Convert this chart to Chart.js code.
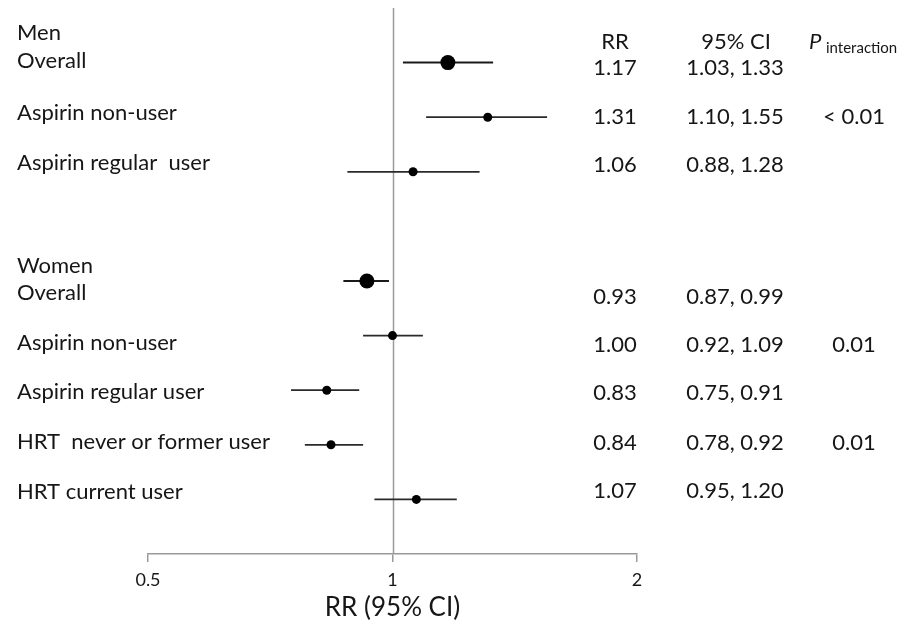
<!DOCTYPE html>
<html>
<head>
<meta charset="utf-8">
<title>RR forest plot</title>
<script src="https://cdn.jsdelivr.net/npm/chart.js@4"></script>
<style>
  body { margin: 0; background: #fff; }
  canvas { display: block; }
</style>
</head>
<body>
<canvas id="forest" width="905" height="626"></canvas>
<script>
// rows, top to bottom
const rowLabels = ["Overall", "Aspirin non-user", "Aspirin regular  user", "Overall",
  "Aspirin non-user", "Aspirin regular user", "HRT  never or former user", "HRT current user"];
const groupLabels = ["Men", "Women"];
const rr = [1.17, 1.31, 1.06, 0.93, 1.00, 0.83, 0.84, 1.07];
const ciLow = [1.03, 1.10, 0.88, 0.87, 0.92, 0.75, 0.78, 0.95];
const ciHigh = [1.33, 1.55, 1.28, 0.99, 1.09, 0.91, 0.92, 1.20];
const pInteraction = ["", "< 0.01", "", "", "0.01", "", "0.01", ""];
const isOverall = [true, false, false, true, false, false, false, false];
const xTicks = [0.5, 1, 2];

// row slots on the hidden y scale (gap between men and women)
const rowSlot = [0, 1, 2, 4, 5, 6, 7, 8];

// text layout (pixel y of each text line)
const labelY = [61, 113, 163, 293, 343, 392, 442, 492];
const groupY = [33, 266];
const valueY = [68, 117, 165, 297, 345, 393, 443, 491];
const headerY = 42;

const textColor = "#161616";
const fontFamily = "Lato, 'Open Sans', sans-serif";

const fmt2 = v => v.toFixed(2);

const ciBars = {
  id: "ciBars",
  beforeDatasetsDraw(chart) {
    const { ctx, chartArea, scales: { x, y } } = chart;
    ctx.save();
    // reference line at RR = 1
    const x1 = Math.round(x.getPixelForValue(1)) + 0.5;
    ctx.strokeStyle = "#9a9a9a";
    ctx.lineWidth = 1.5;
    ctx.beginPath();
    ctx.moveTo(x1, chartArea.top);
    ctx.lineTo(x1, chartArea.bottom);
    ctx.stroke();
    // confidence intervals
    rr.forEach((v, i) => {
      const py = y.getPixelForValue(rowSlot[i]);
      ctx.strokeStyle = isOverall[i] ? "#1a1a1a" : "#2a2a2a";
      ctx.lineWidth = isOverall[i] ? 2 : 1.7;
      ctx.beginPath();
      ctx.moveTo(x.getPixelForValue(ciLow[i]), py);
      ctx.lineTo(x.getPixelForValue(ciHigh[i]), py);
      ctx.stroke();
    });
    ctx.restore();
  }
};

const tableText = {
  id: "tableText",
  afterDraw(chart) {
    const { ctx } = chart;
    ctx.save();
    ctx.fillStyle = textColor;
    ctx.textBaseline = "middle";
    ctx.font = "22px " + fontFamily;
    ctx.textAlign = "left";
    groupLabels.forEach((g, i) => ctx.fillText(g, 17, groupY[i]));
    rowLabels.forEach((t, i) => ctx.fillText(t, 17, labelY[i]));

    ctx.textAlign = "center";
    ctx.fillText("RR", 615, headerY);
    ctx.fillText("95% CI", 736, headerY);
    rr.forEach((v, i) => {
      ctx.fillText(fmt2(v), 615, valueY[i]);
      ctx.fillText(fmt2(ciLow[i]) + ", " + fmt2(ciHigh[i]), 735, valueY[i]);
      if (pInteraction[i]) ctx.fillText(pInteraction[i], 854, valueY[i]);
    });

    ctx.textAlign = "left";
    ctx.font = "italic 22px " + fontFamily;
    ctx.fillText("P", 809, headerY);
    ctx.font = "15px " + fontFamily;
    ctx.fillText("interaction", 826, headerY + 6);
    ctx.restore();
  }
};

new Chart(document.getElementById("forest"), {
  type: "scatter",
  data: {
    datasets: [{
      data: rr.map((v, i) => ({ x: v, y: rowSlot[i] })),
      pointRadius: isOverall.map(o => (o ? 7.5 : 4.5)),
      pointBackgroundColor: "#000",
      pointBorderWidth: 0,
      pointHoverRadius: 0
    }]
  },
  options: {
    responsive: false,
    animation: false,
    events: [],
    layout: { padding: { left: 148, right: 268, top: 8, bottom: 0 } },
    plugins: { legend: { display: false }, tooltip: { enabled: false } },
    scales: {
      x: {
        type: "logarithmic",
        min: 0.5,
        max: 2,
        afterBuildTicks: axis => { axis.ticks = xTicks.map(v => ({ value: v })); },
        afterFit: axis => { axis.height = 72; },
        border: { color: "#9a9a9a", width: 1.5 },
        grid: { drawOnChartArea: false, drawTicks: true, tickLength: 8, color: "#9a9a9a", lineWidth: 1.5 },
        ticks: {
          color: textColor,
          padding: 9,
          maxRotation: 0,
          font: { family: fontFamily, size: 18, lineHeight: 1 },
          callback: v => String(v)
        },
        title: {
          display: true,
          text: "RR (95% CI)",
          color: textColor,
          font: { family: fontFamily, size: 26, lineHeight: 1 },
          padding: { top: 0, bottom: 5 }
        }
      },
      y: { type: "linear", min: -1, max: 9, reverse: true, display: false }
    }
  },
  plugins: [ciBars, tableText]
});
</script>
</body>
</html>
